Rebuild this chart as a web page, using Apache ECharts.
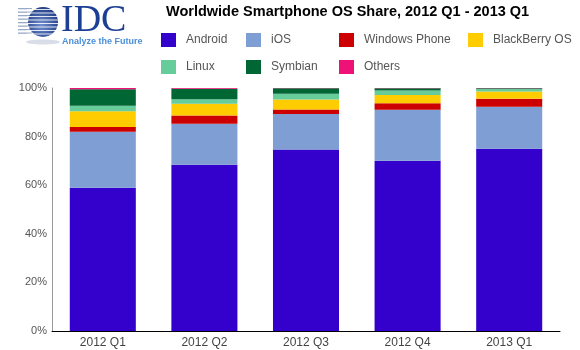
<!DOCTYPE html>
<html>
<head>
<meta charset="utf-8">
<script src="https://cdn.jsdelivr.net/npm/echarts@6/dist/echarts.min.js"></script>
<style>
  html, body { margin: 0; padding: 0; background: #fff; }
  #main { width: 580px; height: 350px; }
</style>
</head>
<body>
<div id="main"></div>
<script>
var categories = ['2012 Q1', '2012 Q2', '2012 Q3', '2012 Q4', '2013 Q1'];
var yTicks = [0, 20, 40, 60, 80, 100];

var android = [59.0, 68.4, 74.7, 70.1, 75.0];
var ios = [23.0, 16.9, 14.6, 21.0, 17.3];
var windowsPhone = [2.0, 3.4, 1.9, 2.6, 3.3];
var blackberry = [6.4, 4.8, 4.1, 3.4, 3.0];
var linux = [2.3, 1.9, 2.3, 1.9, 1.0];
var symbian = [6.8, 4.3, 2.3, 0.9, 0.3];
var others = [0.5, 0.3, 0.1, 0.1, 0.1];

var seriesNames = ['Android', 'iOS', 'Windows Phone', 'BlackBerry OS', 'Linux', 'Symbian', 'Others'];
var seriesData = [android, ios, windowsPhone, blackberry, linux, symbian, others];
var colors = ['#3300cc', '#7f9fd4', '#cc0000', '#ffcc00', '#66cc99', '#006633', '#ee1177'];

// legend grid: 4 columns, 2 rows
var legendX = [161, 246, 339, 468];
var legendY = [33, 60];

var myChart = echarts.init(document.getElementById('main'));

var legends = seriesNames.map(function (name, i) {
    return {
        data: [name],
        left: legendX[i % 4],
        top: legendY[Math.floor(i / 4)],
        padding: 0,
        itemWidth: 15,
        itemHeight: 14,
        icon: 'rect',
        selectedMode: false,
        textStyle: {
            fontFamily: 'Liberation Sans, Arial',
            fontSize: 12,
            color: '#555',
            padding: [0, 0, 0, 5]
        }
    };
});

var series = seriesNames.map(function (name, i) {
    return {
        name: name,
        type: 'bar',
        stack: 'share',
        barWidth: '65%',
        itemStyle: { color: colors[i] },
        data: seriesData[i]
    };
});

// logo stripes
var logo = [];
for (var k = 0; k < 8; k++) {
    logo.push({
        type: 'rect',
        shape: { x: 18, y: 8 + k * 3.5, width: 14, height: 1.3 },
        style: { fill: '#9aa8c8' }
    });
}
logo.push({
    type: 'ellipse',
    shape: { cx: 43, cy: 42, rx: 17, ry: 2.5 },
    style: { fill: '#d8dde8' }
});
logo.push({
    type: 'circle',
    shape: { cx: 43, cy: 22, r: 15 },
    style: {
        fill: new echarts.graphic.RadialGradient(0.45, 0.6, 0.7, [
            { offset: 0, color: '#6f8fd0' },
            { offset: 1, color: '#18307a' }
        ])
    }
});
for (var j = 0; j < 9; j++) {
    logo.push({
        type: 'rect',
        shape: { x: 27, y: 9 + j * 3.5, width: 32, height: 1 },
        style: { fill: '#ffffff', opacity: 0.85 }
    });
}
logo.push({
    type: 'text',
    left: 61,
    top: 2,
    style: {
        text: 'IDC',
        font: '38px "Liberation Serif", "Times New Roman", serif',
        fill: '#1c3f94'
    }
});
logo.push({
    type: 'text',
    left: 62,
    top: 37,
    style: {
        text: 'Analyze the Future',
        font: 'bold 9px "Liberation Sans Narrow", "Liberation Sans", Arial',
        fill: '#4a8fd8'
    }
});

var option = {
    animation: false,
    title: {
        text: 'Worldwide Smartphone OS Share, 2012 Q1 - 2013 Q1',
        left: 166,
        top: 4,
        padding: 0,
        textStyle: {
            fontFamily: 'Liberation Sans, Arial',
            fontSize: 14.5,
            fontWeight: 'bold',
            color: '#000'
        }
    },
    legend: legends,
    graphic: logo,
    grid: {
        left: 52,
        right: 20,
        top: 88,
        bottom: 19
    },
    xAxis: {
        type: 'category',
        data: categories,
        axisLine: { lineStyle: { color: '#000', width: 1 } },
        axisTick: { show: false },
        axisLabel: {
            fontFamily: 'Liberation Sans, Arial',
            fontSize: 12,
            color: '#444',
            margin: 6
        }
    },
    yAxis: {
        type: 'value',
        min: yTicks[0],
        max: yTicks[yTicks.length - 1],
        interval: 20,
        axisLine: { show: true, lineStyle: { color: '#999' } },
        axisTick: { show: false },
        splitLine: { show: false },
        axisLabel: {
            formatter: '{value}%',
            fontFamily: 'Liberation Sans, Arial',
            fontSize: 11,
            color: '#555',
            margin: 5
        }
    },
    series: series
};
myChart.setOption(option);
</script>
</body>
</html>
